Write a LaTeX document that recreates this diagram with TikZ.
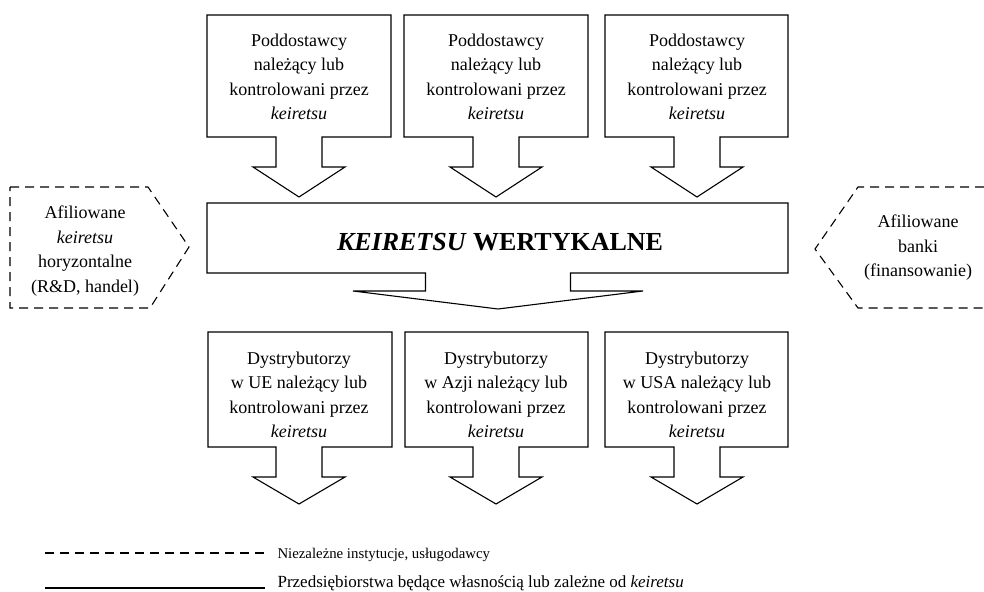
\documentclass[tikz,border=0pt]{standalone}
\usepackage{fontspec}
\setmainfont{Liberation Serif}
\usepackage{tikz}
% box with a block arrow below it: left, right, top, bottom, centre, half shaft, half head, shaft end, tip
\newcommand{\arrowbox}[9]{\draw (#5-#6,#4) -- (#1,#4) -- (#1,#3) -- (#2,#3) -- (#2,#4) -- (#5+#6,#4)
  -- (#5+#6,#8) -- (#5+#7,#8) -- (#5,#9) -- (#5-#7,#8) -- (#5-#6,#8) -- cycle;}

\begin{document}
\begin{tikzpicture}[x=1pt,y=-1pt,line width=1.1pt,
    boxtext/.style={align=center,font=\fontsize{18}{24.5}\selectfont},
    legtext/.style={anchor=base west,inner sep=0pt},
    outside/.style={dash pattern=on 9pt off 6pt}]
      \useasboundingbox (0,0) rectangle (984,591);
      % suppliers
      \arrowbox{207}{391}{15}{137}{299}{23}{46}{167}{197}
      \arrowbox{404}{588}{15}{137}{496}{23}{46}{167}{197}
      \arrowbox{605}{788}{15}{137}{697}{23}{46}{167}{197}
      \node[boxtext] (sup1) at (299,77) {Poddostawcy\\należący lub\\kontrolowani przez\\\textit{keiretsu}};
      \node[boxtext] (sup2) at (496,77) {Poddostawcy\\należący lub\\kontrolowani przez\\\textit{keiretsu}};
      \node[boxtext] (sup3) at (697,77) {Poddostawcy\\należący lub\\kontrolowani przez\\\textit{keiretsu}};
      % core
      \arrowbox{207}{788}{203}{273}{498}{72.5}{145}{291}{309}
      \node[font=\fontsize{26}{30}\selectfont\bfseries] (core) at (500,242) {\textit{KEIRETSU} WERTYKALNE};
      % sides
      \draw[outside] (10,187) -- (148,187) -- (189,247) -- (150,308) -- (10,308) -- cycle;
      \node[boxtext] (horiz) at (85,251) {Afiliowane\\\textit{keiretsu}\\horyzontalne\\(R\&D, handel)};
      \draw[outside] (984,187) -- (858,187) -- (815,249) -- (858,308) -- (984,308);
      \node[boxtext] (banks) at (918,248) {Afiliowane\\banki\\(finansowanie)};
      % distributors
      \arrowbox{208}{392}{332}{447}{299}{23}{46}{477}{504}
      \arrowbox{405}{588}{332}{447}{496}{23}{46}{477}{504}
      \arrowbox{605}{788}{332}{447}{697}{23}{46}{477}{504}
      \node[boxtext] (dist1) at (299,395) {Dystrybutorzy\\w UE należący lub\\kontrolowani przez\\\textit{keiretsu}};
      \node[boxtext] (dist2) at (496,395) {Dystrybutorzy\\w Azji należący lub\\kontrolowani przez\\\textit{keiretsu}};
      \node[boxtext] (dist3) at (697,395) {Dystrybutorzy\\w USA należący lub\\kontrolowani przez\\\textit{keiretsu}};
      % legend
      \node[legtext,font=\fontsize{14.8}{18}\selectfont] (legdash) at (277,558) {Niezależne instytucje, usługodawcy};
      \node[legtext,font=\fontsize{17}{20}\selectfont] (legsolid) at (277,587) {Przedsiębiorstwa będące własnością lub zależne od \textit{keiretsu}};
      \coordinate (dashend) at (45,553);
      \coordinate (solidend) at (45,588);
      \draw[outside] (dashend) -- ([xshift=-12pt]dashend -| legdash.west);
      \draw (solidend) -- ([xshift=-12pt]solidend -| legsolid.west);
    \end{tikzpicture}
\end{document}
